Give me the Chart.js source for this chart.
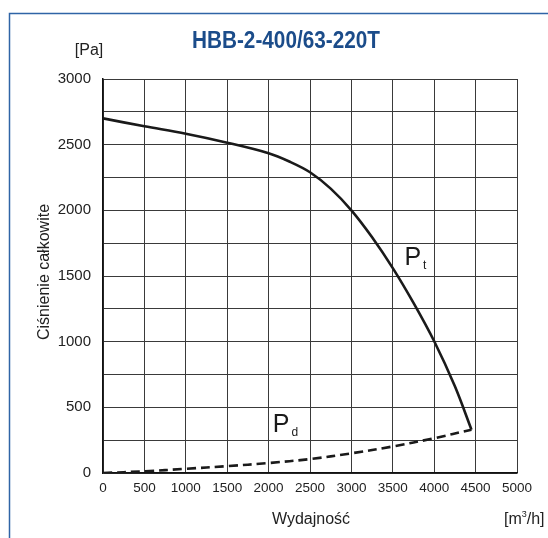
<!DOCTYPE html>
<html>
<head>
<meta charset="utf-8">
<script src="https://cdn.jsdelivr.net/npm/chart.js@4"></script>
<style>
html,body{margin:0;padding:0;background:#fff;}
#wrap{width:548px;height:538px;position:relative;}
</style>
</head>
<body>
<div id="wrap"><canvas id="c" width="548" height="538"></canvas></div>
<script>
// ---- data ----
const chartTitle = "HBB-2-400/63-220T";
const yUnit = "[Pa]";
const yTitle = "Ciśnienie całkowite";
const xTitle = "Wydajność";
const flowPt = [0, 500, 1000, 1500, 2000, 2250, 2500, 2750, 3000, 3250, 3500, 3750, 4000, 4250, 4450];
const pressurePt = [2700, 2640, 2583, 2515, 2435, 2372, 2290, 2165, 2000, 1795, 1560, 1295, 1003, 660, 330];
const flowPd = [0, 500, 1000, 1500, 2000, 2500, 3000, 3500, 4000, 4450];
const pressurePd = [0, 13, 32, 52, 76, 106, 150, 202, 265, 330];
const xTicks = [0, 500, 1000, 1500, 2000, 2500, 3000, 3500, 4000, 4500, 5000];
const yTicks = [0, 500, 1000, 1500, 2000, 2500, 3000];
const curveLabels = [
  {main: "P", sub: "t", x: 3640, y: 1580},
  {main: "P", sub: "d", x: 2050, y: 310}
];

const FONT = "'Liberation Sans', Arial, Helvetica, sans-serif";

const decor = {
  id: 'decor',
  beforeDraw(chart) {
    const ctx = chart.ctx;
    ctx.save();
    ctx.strokeStyle = '#2f64a6';
    ctx.lineWidth = 1.5;
    ctx.beginPath();
    ctx.moveTo(9.5, 600);
    ctx.lineTo(9.5, 13.5);
    ctx.lineTo(600, 13.5);
    ctx.stroke();
    ctx.restore();
  },
  afterDraw(chart) {
    const ctx = chart.ctx;
    const xs = chart.scales.x, ys = chart.scales.y;
    ctx.save();
    // title (condensed to the reference width)
    ctx.fillStyle = '#1b4c8a';
    ctx.font = "bold 24px " + FONT;
    ctx.textAlign = 'center';
    ctx.textBaseline = 'alphabetic';
    const tw = ctx.measureText(chartTitle).width;
    ctx.save();
    ctx.translate(286, 48);
    ctx.scale(188 / tw, 1);
    ctx.fillText(chartTitle, 0, 0);
    ctx.restore();
    // units / titles
    ctx.fillStyle = '#222';
    ctx.textBaseline = 'alphabetic';
    ctx.font = "16px " + FONT;
    ctx.textAlign = 'center';
    ctx.fillText(yUnit, 89, 55);
    ctx.fillText(xTitle, 311, 524);
    // [m³/h] with superscript
    ctx.textAlign = 'left';
    let x0 = 504;
    const parts = [["[m", 16, 0], ["3", 9, -7], ["/h]", 16, 0]];
    parts.forEach(p => {
      ctx.font = p[1] + "px " + FONT;
      ctx.fillText(p[0], x0, 524 + p[2]);
      x0 += ctx.measureText(p[0]).width;
    });
    // y title rotated
    ctx.save();
    ctx.font = "16px " + FONT;
    ctx.translate(49, 272);
    ctx.rotate(-Math.PI / 2);
    ctx.textAlign = 'center';
    ctx.fillText(yTitle, 0, 0);
    ctx.restore();
    // curve labels
    curveLabels.forEach(l => {
      const px = xs.getPixelForValue(l.x), py = ys.getPixelForValue(l.y);
      ctx.textAlign = 'left';
      ctx.textBaseline = 'alphabetic';
      ctx.font = "25px " + FONT;
      ctx.fillStyle = '#1a1a1a';
      ctx.fillText(l.main, px, py);
      const w = ctx.measureText(l.main).width;
      ctx.font = "12px " + FONT;
      ctx.fillText(l.sub, px + w + 2, py + 4);
    });
    ctx.restore();
  }
};

new Chart(document.getElementById('c'), {
  type: 'scatter',
  data: {
    datasets: [
      {
        label: 'Pt',
        data: flowPt.map((x, i) => ({x, y: pressurePt[i]})),
        showLine: true,
        borderColor: '#1a1a1a',
        borderWidth: 2.6,
        pointRadius: 0,
        tension: 0.35,
        fill: false
      },
      {
        label: 'Pd',
        data: flowPd.map((x, i) => ({x, y: pressurePd[i]})),
        showLine: true,
        borderColor: '#1a1a1a',
        borderWidth: 2.6,
        borderDash: [9, 5],
        pointRadius: 0,
        tension: 0.35,
        fill: false
      }
    ]
  },
  options: {
    responsive: false,
    animation: false,
    devicePixelRatio: 1,
    layout: {padding: {top: 79, right: 31, left: 0, bottom: 0}},
    plugins: {legend: {display: false}, tooltip: {enabled: false}, title: {display: false}},
    scales: {
      x: {
        type: 'linear',
        min: 0, max: 5000,
        afterFit(s) { s.height = 65; },
        afterBuildTicks(s) { s.ticks = xTicks.map(v => ({value: v})); },
        ticks: {color: '#222', font: {family: FONT, size: 13.5}, padding: 7, maxRotation: 0,
                callback: v => String(v)},
        grid: {color: '#3a3a3a', lineWidth: 1, drawTicks: false},
        border: {color: '#111', width: 1.5}
      },
      y: {
        type: 'linear',
        min: 0, max: 3000,
        afterFit(s) { s.width = 103; },
        afterBuildTicks(s) {
          const t = [];
          for (let v = 0; v <= 3000; v += 250) t.push({value: v});
          s.ticks = t;
        },
        ticks: {
          color: '#222', font: {family: FONT, size: 15}, padding: 12,
          callback: v => yTicks.includes(v) ? String(v) : ''
        },
        grid: {color: '#3a3a3a', lineWidth: 1, drawTicks: false},
        border: {color: '#111', width: 1.5}
      }
    }
  },
  plugins: [decor]
});
</script>
</body>
</html>
